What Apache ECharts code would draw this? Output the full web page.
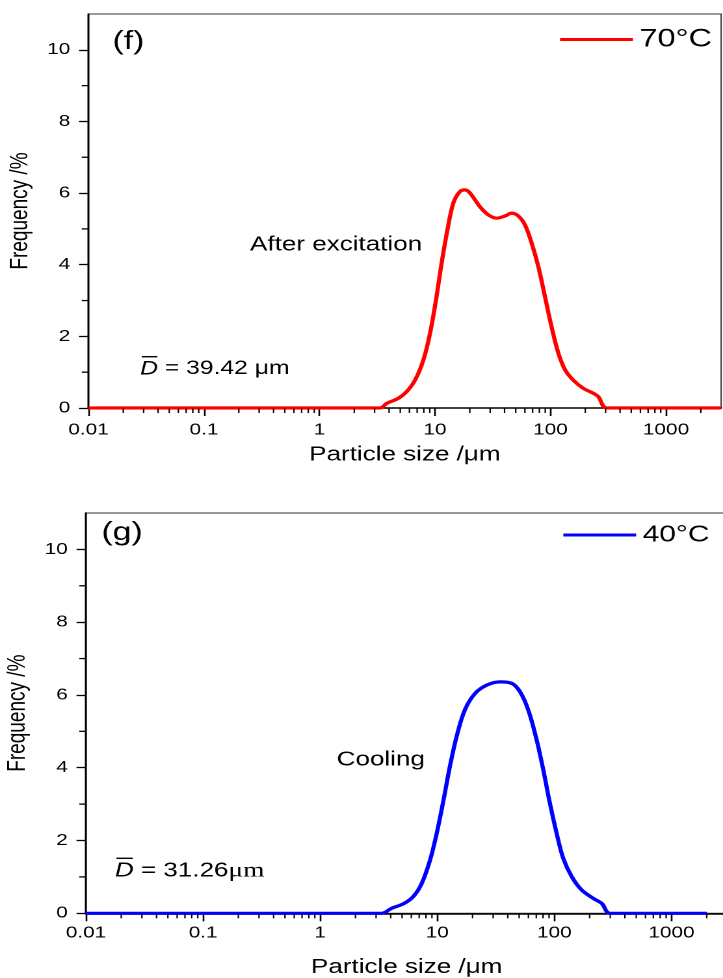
<!DOCTYPE html>
<html>
<head>
<meta charset="utf-8">
<script src="https://cdn.jsdelivr.net/npm/echarts@6/dist/echarts.min.js"></script>
<style>
html,body{margin:0;padding:0;background:#fff;overflow:hidden}
#wrap{width:723px;height:978px;overflow:hidden;position:relative;background:#fff}
#c{width:556px;height:978px;transform-origin:0 0;transform:scaleX(1.3003597);}
</style>
</head>
<body>
<div id="wrap"><div id="c"></div></div>
<script>
// ---------------- data ----------------
const nameF = '70°C';
const sizesF = [0.01, 0.1, 1, 3.34, 3.82, 4.81, 5.69, 6.72, 7.93, 9.06, 10.2, 11.4, 12.8, 14.4, 16.4, 18.2, 20.1, 24.5, 29.0, 34.2, 40.4, 46.1, 52.6, 60.1, 68.7, 78.4, 89.5, 102, 117, 134, 157, 192, 235, 259, 307, 1000, 3000];
const freqF  = [0, 0, 0, 0, 0.13, 0.27, 0.46, 0.78, 1.34, 2.09, 3.02, 4.04, 4.97, 5.72, 6.04, 6.09, 6.0, 5.62, 5.39, 5.30, 5.36, 5.44, 5.36, 5.11, 4.6, 3.95, 3.11, 2.27, 1.53, 1.06, 0.78, 0.55, 0.41, 0.32, 0, 0, 0];

const nameG = '40°C';
const sizesG = [0.01, 0.1, 1, 3.35, 4.08, 5.13, 6.24, 7.36, 8.67, 9.89, 11.3, 12.8, 14.6, 17.2, 21.0, 26.4, 34.3, 43.2, 50.8, 59.8, 70.6, 80.4, 91.6, 104.5, 119, 140.5, 171, 215, 254, 299, 1000, 2000];
const freqG  = [0, 0, 0, 0, 0.14, 0.26, 0.46, 0.82, 1.46, 2.20, 3.11, 4.03, 4.85, 5.59, 6.04, 6.27, 6.36, 6.32, 6.09, 5.59, 4.76, 3.94, 3.02, 2.20, 1.51, 1.01, 0.64, 0.41, 0.27, 0, 0, 0];

const xMajorTicks = [0.01, 0.1, 1, 10, 100, 1000];
const xMinorTicks = [0.02,0.03,0.04,0.05,0.06,0.07,0.08,0.09, 0.2,0.3,0.4,0.5,0.6,0.7,0.8,0.9, 2,3,4,5,6,7,8,9, 20,30,40,50,60,70,80,90, 200,300,400,500,600,700,800,900, 2000];
const yMajorTicks = [0, 2, 4, 6, 8, 10];
const yMinorTicks = [1, 3, 5, 7, 9];
const xName = 'Particle size /μm';
const yName = 'Frequency /%';

// ---------------- layout / style ----------------
const FONT = "'Liberation Sans', Arial, sans-serif";
const panels = [
  { grid: {left: 68.06, top: 14, width: 486.5, height: 394}, xNameGap: 37, xLabelMargin: 14,
    color: '#ff0000', name: nameF, sizes: sizesF, freq: freqF,
    legend: {left: 430.7, top: 27, fontSize: 25} },
  { grid: {left: 66.14, top: 513, width: 493.2, height: 400.3}, xNameGap: 44, xLabelMargin: 12,
    color: '#0000ff', name: nameG, sizes: sizesG, freq: freqG,
    legend: {left: 433.2, top: 523.5, fontSize: 23} }
];

const fmt = v => String(+(+v).toPrecision(6));
const grids = [], xAxes = [], yAxes = [], series = [], legends = [];
panels.forEach((p, i) => {
  grids.push(Object.assign({show: true, borderColor: '#333', borderWidth: 1, backgroundColor: 'transparent', outerBoundsMode: 'none', containLabel: false}, p.grid));
  xAxes.push({
    type: 'log', logBase: 10, gridIndex: i, min: 0.01, max: 3000, position: 'bottom',
    splitLine: {show: false}, minorTick: {show: false}, minorSplitLine: {show: false},
    axisLine: {show: true, onZero: false, lineStyle: {color: '#000', width: 1.5}},
    axisTick: {show: true, inside: false, length: 8, customValues: xMajorTicks, lineStyle: {color: '#000', width: 1.3}},
    axisLabel: {show: true, customValues: xMajorTicks, formatter: fmt, fontSize: 16, color: '#000', fontFamily: FONT, margin: p.xLabelMargin, hideOverlap: false},
    name: xName, nameLocation: 'middle', nameGap: p.xNameGap,
    nameTextStyle: {fontSize: 20, color: '#000', fontFamily: FONT}
  });
  yAxes.push({
    type: 'value', gridIndex: i, min: 0, max: 11, position: 'left', splitLine: {show: false},
    axisLine: {show: true, onZero: false, lineStyle: {color: '#000', width: 1.5}},
    axisTick: {show: true, inside: false, length: 7.3, customValues: yMajorTicks, lineStyle: {color: '#000', width: 1.3}},
    axisLabel: {show: true, customValues: yMajorTicks, fontSize: 16, color: '#000', fontFamily: FONT, margin: 14},
    name: yName, nameLocation: 'middle', nameGap: 41,
    nameTextStyle: {fontSize: 19, color: '#000', fontFamily: FONT}
  });
  series.push({
    type: 'line', name: p.name, xAxisIndex: i, yAxisIndex: i,
    data: p.sizes.map((s, k) => [s, p.freq[k]]),
    symbol: 'none', showSymbol: false, smooth: 0.35,
    lineStyle: {color: p.color, width: 3.2}, itemStyle: {color: p.color},
    z: 5, silent: true
  });
  // minor ticks along x axis (log-spaced), positioned by the axis scale
  series.push({
    type: 'custom', name: 'xminor' + i, xAxisIndex: i, yAxisIndex: i, silent: true, clip: false, z: 6,
    encode: {x: 0, y: 1},
    data: xMinorTicks.map(v => [v, 0]),
    renderItem: (params, api) => {
      const pt = api.coord([api.value(0), api.value(1)]);
      return {type: 'rect', shape: {x: pt[0] - 0.55, y: pt[1] + 0.5, width: 1.1, height: 4.5},
              style: {fill: '#000'}};
    }
  });
  // minor ticks along y axis
  series.push({
    type: 'custom', name: 'yminor' + i, xAxisIndex: i, yAxisIndex: i, silent: true, clip: false, z: 6,
    encode: {x: 0, y: 1},
    data: yMinorTicks.map(v => [0.01, v]),
    renderItem: (params, api) => {
      const pt = api.coord([api.value(0), api.value(1)]);
      return {type: 'rect', shape: {x: pt[0] - 5.2, y: pt[1] - 0.65, width: 5.2, height: 1.3},
              style: {fill: '#000'}};
    }
  });
  legends.push({
    data: [{name: p.name, icon: 'rect'}], left: p.legend.left, top: p.legend.top, padding: 0, orient: 'horizontal',
    itemWidth: 56, itemHeight: 3, selectedMode: false,
    itemStyle: {color: p.color, borderWidth: 0},
    textStyle: {fontSize: p.legend.fontSize, color: '#000', fontFamily: FONT}
  });
});

const graphics = [
  {type: 'text', left: 86.5, top: 29, style: {text: '(f)', fontSize: 26, fontFamily: FONT, fill: '#000'}},
  {type: 'text', left: 78, top: 520, style: {text: '(g)', fontSize: 26, fontFamily: FONT, fill: '#000'}},
  {type: 'text', left: 192.3, top: 234.8, style: {text: 'After excitation', fontSize: 20, fontFamily: FONT, fill: '#000'}},
  {type: 'text', left: 258.9, top: 749.8, style: {text: 'Cooling', fontSize: 20, fontFamily: FONT, fill: '#000'}},
  {type: 'text', left: 107.7, top: 359.5, style: {text: '{i|D} = 39.42 μm', fontSize: 19, fontFamily: FONT, fill: '#000',
    rich: {i: {fontStyle: 'italic', fontSize: 19, fontFamily: FONT, fill: '#000'}}}},
  {type: 'line', shape: {x1: 109, y1: 356.7, x2: 121, y2: 356.7}, style: {stroke: '#000', lineWidth: 1.4}},
  {type: 'text', left: 88.4, top: 860.5, style: {text: '{i|D} = 31.26{s|μm}', fontSize: 20, fontFamily: FONT, fill: '#000',
    rich: {i: {fontStyle: 'italic', fontSize: 20, fontFamily: FONT, fill: '#000'},
           s: {fontSize: 21, fontFamily: "'Liberation Serif', 'DejaVu Serif', serif", fill: '#000'}}}},
  {type: 'line', shape: {x1: 89.5, y1: 858.3, x2: 102, y2: 858.3}, style: {stroke: '#000', lineWidth: 1.4}}
];

const chart = echarts.init(document.getElementById('c'), null, {renderer: 'canvas', devicePixelRatio: 2});
chart.setOption({
  animation: false,
  backgroundColor: '#fff',
  grid: grids, xAxis: xAxes, yAxis: yAxes, series: series, legend: legends, graphic: graphics
});
</script>
</body>
</html>
